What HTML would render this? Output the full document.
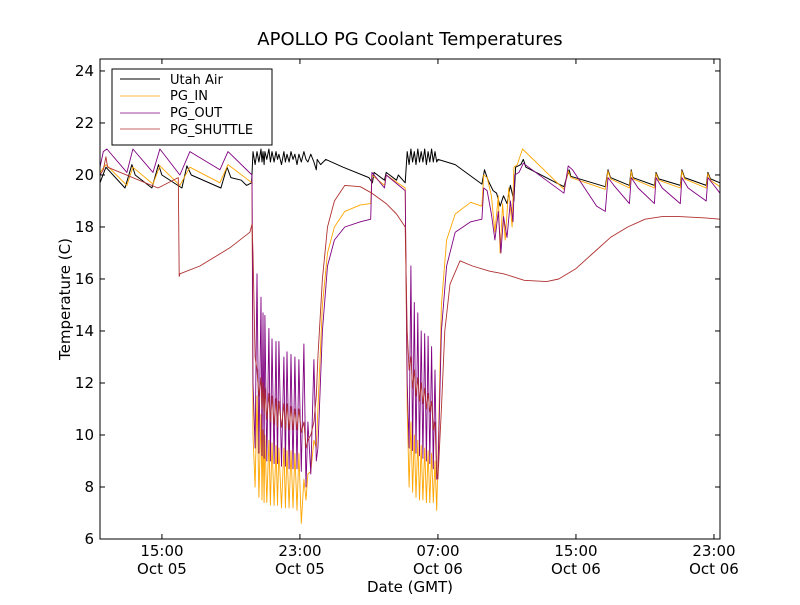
<!DOCTYPE html>
<html><head><meta charset="utf-8"><style>
body{margin:0;background:#fff;}
svg text{font-family:"DejaVu Sans","Liberation Sans",sans-serif;}
</style></head><body>
<svg id="chart" width="800" height="600" xmlns="http://www.w3.org/2000/svg">
<rect width="800" height="600" fill="#fff"/>
<text x="410" y="45" text-anchor="middle" font-size="18">APOLLO PG Coolant Temperatures</text>
<text x="410" y="592" text-anchor="middle" font-size="15">Date (GMT)</text>
<text transform="translate(70,299) rotate(-90)" text-anchor="middle" font-size="15">Temperature (C)</text>
<g id="series"></g>
<g id="axes"></g>
<g id="legend">
<rect x="112" y="69" width="160" height="76" fill="#fff" stroke="#000"/>
<line x1="120" y1="79" x2="160" y2="79" stroke="#000"/>
<text x="170" y="84" font-size="13">Utah Air</text>
<line x1="120" y1="96" x2="160" y2="96" stroke="#ffa500" stroke-width="0.7"/>
<text x="170" y="100" font-size="13">PG_IN</text>
<line x1="120" y1="113" x2="160" y2="113" stroke="#800080" stroke-width="0.8"/>
<text x="170" y="117" font-size="13">PG_OUT</text>
<line x1="120" y1="129" x2="160" y2="129" stroke="#b03030" stroke-width="0.8"/>
<text x="170" y="134" font-size="13">PG_SHUTTLE</text>
</g>
</svg>
<script>
const lowT1=[20.28,20.40,20.51,20.62,20.74,20.80,20.86,20.92,20.97,21.08,21.20,21.29,21.38,21.50,21.61,21.70,21.78,21.93,22.07,22.16,22.25,22.37,22.48,22.60,22.71,22.83,22.94,23.08,23.23,23.35,23.46,23.63,23.81,23.95];
const lowT2=[29.22,29.33,29.43,29.53,29.63,29.73,29.83,29.93,30.03,30.13,30.23,30.33,30.43,30.53,30.63,30.73,30.83,30.93];

const airPreT=[11.41,11.75,12.86,13.26,13.45,14.42,14.8,15.0,16.16,16.45,16.7,18.42,18.77,19.0,19.6,19.9,20.2];
const airPreV=[19.7,20.3,19.5,20.4,20.0,19.5,20.4,20.0,19.5,20.35,20.0,19.5,20.3,19.9,19.8,19.6,19.7];
const airLow1=[20.9,20.4,20.9,20.5,21.0,20.5,20.9,20.4,20.9,20.6,21.0,20.5,20.9,20.5,20.9,20.6,20.8,20.4,20.9,20.5,20.8,20.5,20.9,20.6,20.8,20.4,20.8,20.5,20.9,20.6,20.5,20.8,20.5,20.2];
const airMidT=[24.0,24.2,24.5,25.5,27.0,27.2,27.3,27.9,28.0,28.6,28.7,29.1];
const airMidV=[20.6,20.4,20.6,20.3,19.9,19.7,20.1,19.8,20.1,19.8,20.0,19.7];
const airLow2=[20.9,20.4,21.0,20.5,20.9,20.4,21.0,20.5,20.9,20.5,21.0,20.4,20.9,20.5,21.0,20.5,20.9,20.5];
const airPostT=[31.0,31.5,32.0,33.55,33.7,33.9,34.2,34.4,34.6,34.8,35.0,35.2,35.4,35.5,35.8,35.95,36.1,38.3,38.6,38.7,40.7,40.86,41.0,42.1,42.2,42.3,43.55,43.64,43.8,45.05,45.14,45.3,46.55,46.65,46.8,47.35];
const airPostV=[20.6,20.5,20.4,19.65,20.2,19.8,19.4,19.3,18.8,19.2,18.9,19.6,19.0,20.3,20.4,20.6,20.3,19.55,20.2,19.95,19.55,20.2,19.9,19.6,20.2,19.9,19.6,20.1,19.85,19.6,20.2,19.9,19.6,20.1,19.85,19.7];

const inPreT=[11.41,11.75,12.97,13.32,14.48,14.88,16.04,16.62,18.36,18.83,20.22];
const inPreV=[20.1,20.4,19.6,20.3,19.65,20.35,19.6,20.3,19.7,20.4,19.7];
const inLow1=[10,8.0,11.5,7.6,10.8,7.5,10.2,7.4,10.0,7.4,9.8,7.3,9.7,7.3,9.6,7.3,9.5,7.2,9.5,7.2,9.4,7.2,9.4,7.2,9.3,7.1,9.3,6.6,8.3,7.5,8.5,8.6,9.8,9.5];
const inMidT=[24.04,24.3,24.6,25.0,25.6,26.5,27.1,27.17,27.9,28.0,29.1];
const inMidV=[11,15,17,18,18.6,18.85,18.9,20.0,19.6,20.0,19.5];
const inLow2=[11,8.0,10.5,7.8,10.0,7.6,9.8,7.5,9.6,7.5,9.5,7.4,9.4,7.4,9.3,7.4,9.0,7.1];
const inPostT=[31.0,31.2,31.5,32.0,32.9,33.55,33.65,33.85,34.1,34.3,34.5,34.6,34.75,34.9,35.1,35.3,35.4,35.6,35.9,38.3,38.55,38.7,40.7,40.86,41.0,42.1,42.2,42.3,43.55,43.64,43.8,45.05,45.14,45.3,46.55,46.65,46.8,47.35];
const inPostV=[9,15,17.5,18.5,18.95,18.8,20.0,19.9,19.2,17.8,19.2,17.0,18.9,17.5,19.5,18.0,20.3,20.4,21.0,19.45,20.15,19.9,19.45,20.15,19.85,19.5,20.15,19.85,19.5,20.05,19.8,19.5,20.15,19.85,19.5,20.05,19.8,19.55];

const outPreT=[11.41,11.6,11.81,12.97,13.32,14.48,14.88,16.04,16.62,18.36,18.83,20.22];
const outPreV=[20.3,20.9,21.0,20.1,21.0,20.1,21.0,20.0,20.9,20.2,20.9,20.0];
const outLow1=[12,9.5,16.2,9.3,15.3,9.2,14.7,9.1,14.6,9.0,14.1,9.0,13.7,8.9,13.6,8.9,13.6,8.8,13.0,8.8,13.2,8.7,13.1,8.7,13.0,8.7,12.9,8.6,13.5,8.0,10.5,8.5,12.9,9.0];
const outMidT=[24.04,24.3,24.6,25.0,25.6,26.5,27.1,27.17,27.9,28.0,29.1];
const outMidV=[9.5,14,16.5,17.5,18.0,18.2,18.3,20.1,19.5,20.0,19.4];
const outLow2=[12,9.5,16.5,9.4,15.1,9.3,14.7,9.2,14.0,9.1,13.9,9.0,13.8,8.9,13.4,8.7,12.5,8.3];
const outPostT=[31.0,31.2,31.5,32.0,32.9,33.55,33.65,33.85,34.1,34.3,34.5,34.65,34.8,35.0,35.2,35.35,35.45,35.7,35.95,38.3,38.55,38.8,40.2,40.7,40.86,41.2,42.1,42.2,42.6,43.55,43.64,44.0,45.05,45.14,45.5,46.55,46.65,47.0,47.35];
const outPostV=[8.5,14,16.5,17.8,18.2,18.3,19.5,19.4,18.5,17.5,18.6,17.0,18.4,17.6,19.0,18.2,20.0,20.1,20.45,19.3,20.35,20.2,18.8,18.6,19.9,19.6,18.9,19.9,19.5,18.9,19.9,19.5,18.9,19.9,19.5,19.0,19.9,19.6,19.3];

const shPreT=[11.41,11.6,11.75,11.85,14.77,15.95,16.0,16.04,17.2,18.94,20.1,20.22];
const shPreV=[20.0,20.2,20.7,20.3,19.5,19.9,16.1,16.2,16.5,17.2,17.8,18.1];
const shLow1=[17,13,12.5,11.5,12.2,11.0,12.0,10.8,11.8,10.6,11.6,10.5,11.5,10.4,11.4,10.3,11.3,10.3,11.2,10.2,11.2,10.2,11.1,10.2,11.0,10.2,11.0,10.1,10.5,9.5,9.8,10.0,10.5,11.5];
const shMidT=[24.04,24.3,24.6,25.0,25.6,26.5,27.17,28.0,28.6,29.1];
const shMidV=[13,16,18,19.0,19.6,19.55,19.3,18.9,18.5,18.0];
const shLow2=[14,12.5,13.0,11.8,12.5,11.5,12.2,11.3,12.0,11.2,11.8,11.0,11.6,10.9,11.3,10.2,10.5,8.5];
const shPostT=[31.0,31.2,31.4,31.7,32.28,33.0,34.0,34.8,35.3,36.0,37.3,38.0,39.0,40.0,41.0,42.0,43.0,44.0,45.0,46.5,47.35];
const shPostV=[8.3,11,14,15.8,16.7,16.5,16.3,16.2,16.1,15.95,15.9,16.0,16.4,17.0,17.6,18.0,18.3,18.4,18.4,18.35,18.3];

const yTicks=[6,8,10,12,14,16,18,20,22,24];
const xTickHours=[15,23,31,39,47];
const xTickTime=["15:00","23:00","07:00","15:00","23:00"];
const xTickDate=["Oct 05","Oct 05","Oct 06","Oct 06","Oct 06"];

const L=100,R=720,T=59,B=539;
const H0=11.41,H1=47.35,Y0=6,Y1=24.46;
function sx(h){return L+(h-H0)/(H1-H0)*(R-L);}
function sy(v){return B-(v-Y0)/(Y1-Y0)*(B-T);}
const NS="http://www.w3.org/2000/svg";
function build(preT,preV,l1,midT,midV,l2,postT,postV){
  const t=preT.concat(lowT1,midT,lowT2,postT);
  const v=preV.concat(l1,midV,l2,postV);
  return t.map((h,i)=>sx(h).toFixed(1)+","+sy(v[i]).toFixed(1)).join(" ");
}
const sg=document.getElementById('series');
function addLine(pts,color,w,name){
  const p=document.createElementNS(NS,'polyline');
  p.setAttribute('points',pts);p.setAttribute('fill','none');
  p.setAttribute('stroke',color);p.setAttribute('stroke-width',w);
  p.setAttribute('stroke-linejoin','round');
  
  
  sg.appendChild(p);
}
addLine(build(airPreT,airPreV,airLow1,airMidT,airMidV,airLow2,airPostT,airPostV),'#000',1,'utah-air-line');
addLine(build(inPreT,inPreV,inLow1,inMidT,inMidV,inLow2,inPostT,inPostV),'#ffa500',0.9,'pg-in-line');
addLine(build(outPreT,outPreV,outLow1,outMidT,outMidV,outLow2,outPostT,outPostV),'#800080',0.9,'pg-out-line');
addLine(build(shPreT,shPreV,shLow1,shMidT,shMidV,shLow2,shPostT,shPostV),'#b03030',0.9,'pg-shuttle-line');

const ax=document.getElementById('axes');
function el(tag,attrs,name,txt){
  const e=document.createElementNS(NS,tag);
  for(const k in attrs)e.setAttribute(k,attrs[k]);
  
  
  if(txt!==undefined)e.textContent=txt;
  ax.appendChild(e);return e;
}
el('rect',{x:L,y:T,width:R-L,height:B-T,fill:'none',stroke:'#000'},'plot-frame');
yTicks.forEach(v=>{
  const y=sy(v);
  el('line',{x1:L,y1:y,x2:L+5,y2:y,stroke:'#000'},'y-tick');
  el('line',{x1:R,y1:y,x2:R-5,y2:y,stroke:'#000'},'y-tick-right');
  el('text',{x:L-6,y:y+5,'text-anchor':'end','font-size':15},'y-tick-label',String(v));
});
xTickHours.forEach((h,i)=>{
  const x=sx(h);
  el('line',{x1:x,y1:B,x2:x,y2:B-5,stroke:'#000'},'x-tick');
  el('line',{x1:x,y1:T,x2:x,y2:T+5,stroke:'#000'},'x-tick-top');
  el('text',{x:x,y:556,'text-anchor':'middle','font-size':15},'x-tick-time',xTickTime[i]);
  el('text',{x:x,y:574,'text-anchor':'middle','font-size':15},'x-tick-date',xTickDate[i]);
});
</script>
</body></html>
